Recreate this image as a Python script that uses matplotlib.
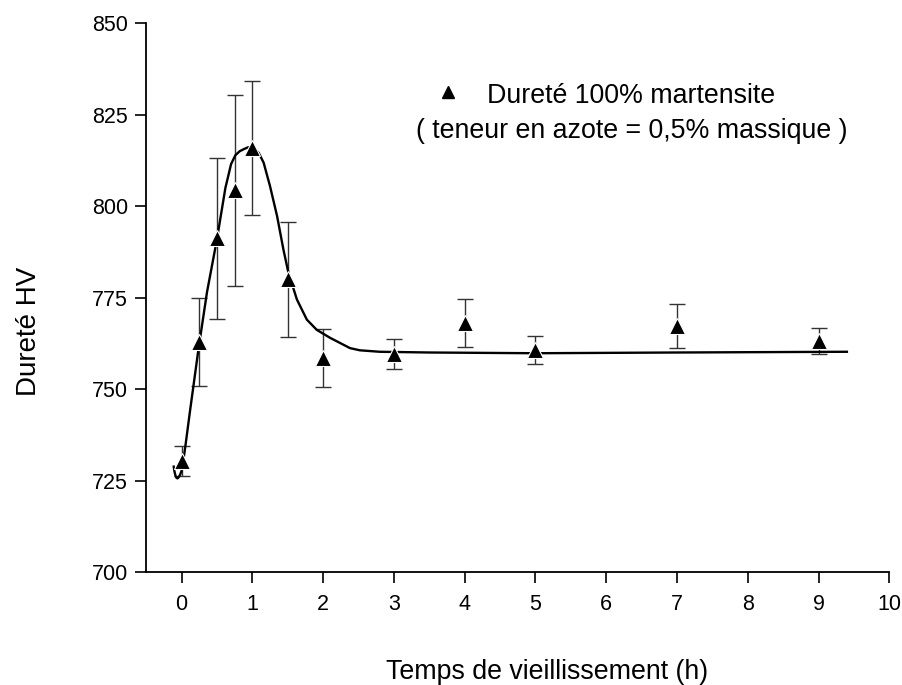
import matplotlib
matplotlib.use("Agg")
import matplotlib.pyplot as plt

plt.rcParams['font.family'] = ['Liberation Sans', 'DejaVu Sans']

# mesures (temps en h, dureté HV, demi-barre d'erreur)
temps = [0, 0.25, 0.5, 0.75, 1, 1.5, 2, 3, 4, 5, 7, 9]
durete = [730.4, 762.8, 791.2, 804.3, 815.8, 780.0, 758.6, 759.6, 768.0, 760.6, 767.2, 763.2]
erreur = [4.1, 12.0, 22.0, 26.0, 18.3, 15.8, 7.9, 4.2, 6.5, 3.8, 6.0, 3.5]

# courbe lissée
courbe_t = [-0.11, -0.1, -0.085, -0.07, -0.055, -0.04, -0.02, 0.0, 0.03, 0.06, 0.12,
            0.24, 0.36, 0.5, 0.62, 0.7, 0.76, 0.82, 0.88, 0.94, 1.02, 1.09, 1.16,
            1.25, 1.35, 1.44, 1.51, 1.63, 1.77, 1.91, 2.1, 2.24, 2.38, 2.52, 2.8,
            3.5, 5.0, 7.0, 9.4]
courbe_hv = [728.8, 727.5, 726.3, 725.7, 725.6, 725.9, 726.6, 727.6, 731.0, 735.2, 744.0,
             761.0, 776.5, 790.9, 805.0, 811.5, 813.9, 815.0, 815.6, 816.1, 816.0, 814.6, 811.9,
             805.5, 797.3, 788.1, 781.8, 774.5, 769.0, 766.2, 764.0, 762.6, 761.2, 760.6, 760.2,
             760.0, 759.8, 760.0, 760.2]

xticks = list(range(0, 11))
yticks = [700, 725, 750, 775, 800, 825, 850]

fig = plt.figure(figsize=(9.02, 6.85), dpi=100)
ax = fig.add_axes([0.162, 0.165, 0.824, 0.801])

ax.plot(courbe_t, courbe_hv, color='black', lw=1.7, zorder=2)
ax.errorbar(temps, durete, yerr=erreur, fmt='none', ecolor='#333333',
            elinewidth=1.0, capsize=6, capthick=1.0, zorder=1)
ax.plot(temps, durete, linestyle='none', marker='^', markersize=11,
        color='black', markeredgecolor='white', markeredgewidth=0.8, zorder=3)

ax.set_xlim(-0.5, 10)
ax.set_ylim(700, 850)
ax.set_xticks(xticks)
ax.set_yticks(yticks)
ax.spines['top'].set_visible(False)
ax.spines['right'].set_visible(False)
ax.spines['left'].set_linewidth(1.3)
ax.spines['bottom'].set_linewidth(1.3)
ax.tick_params(direction='out', length=8, width=1.2, labelsize=15.5)
ax.tick_params(axis='y', pad=5)
ax.tick_params(axis='x', pad=8)

ax.set_xlabel('Temps de vieillissement (h)', fontsize=19.3, va='center')
ax.xaxis.set_label_coords(0.54, -0.182)
ax.set_ylabel('Dureté HV', fontsize=20, va='center', ha='center')
ax.yaxis.set_label_coords(-0.158, 0.439)

# légende
ax.plot([0.406], [0.874], transform=ax.transAxes, marker='^', markersize=9,
        color='black', linestyle='none', clip_on=False)
ax.text(0.653, 0.867, 'Dureté 100% martensite', transform=ax.transAxes,
        ha='center', va='center', fontsize=19.3)
ax.text(0.653, 0.803, '( teneur en azote = 0,5% massique )', transform=ax.transAxes,
        ha='center', va='center', fontsize=19.3)

fig.savefig('out.png', dpi=100)
